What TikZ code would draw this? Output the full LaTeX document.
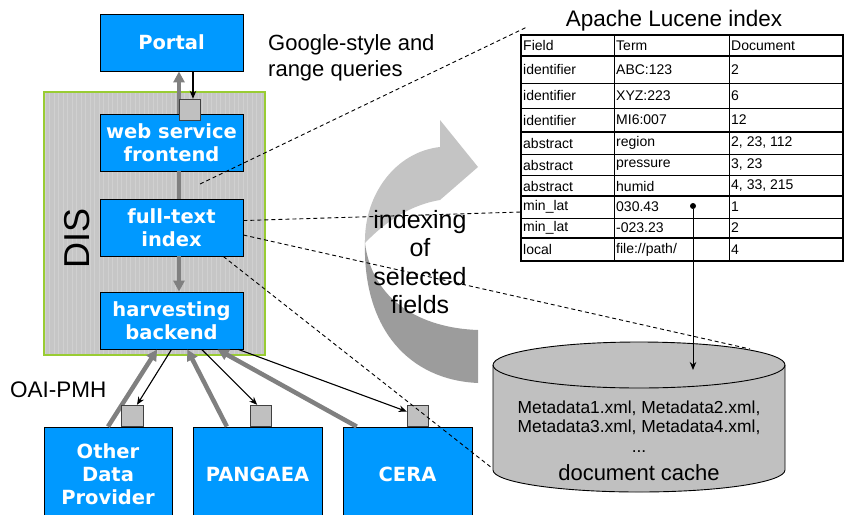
\documentclass[tikz,border=0pt]{standalone}
\usepackage{fontspec}
\setmainfont{Liberation Sans}
\newfontfamily\boxfont{DejaVu Sans}
\usetikzlibrary{arrows.meta,calc}
\definecolor{boxblue}{RGB}{0,153,255}
\definecolor{disgray}{RGB}{198,198,198}
\definecolor{gridc}{RGB}{208,208,208}
\definecolor{disborder}{RGB}{153,204,51}
\definecolor{sqgray}{RGB}{192,192,192}
\definecolor{sqborder}{RGB}{64,64,64}
\definecolor{arrgray}{RGB}{128,128,128}
\definecolor{lightarr}{RGB}{196,196,196}
\definecolor{darkarr}{RGB}{156,156,156}
\definecolor{cylgray}{RGB}{192,192,192}
\begin{document}
\begin{tikzpicture}[x=1pt,y=-1pt,
  bluebox/.style={draw=black, line width=0.9pt, fill=boxblue, text=white,
    font=\boxfont\bfseries\fontsize{19.5}{23}\selectfont, align=center, inner sep=0pt},
  upperbox/.style={bluebox, minimum width=143pt, minimum height=57pt},
  lowerbox/.style={bluebox, minimum width=129pt, minimum height=94pt},
  sqbox/.style={draw=sqborder, line width=0.9pt, fill=sqgray, minimum size=21.5pt, inner sep=0pt},
  grayarr/.style={draw=arrgray, line width=4.5pt, -{Triangle[length=11pt,width=11pt]}},
  grayln/.style={draw=arrgray, line width=4.5pt},
  blackarr/.style={draw=black, line width=1.1pt, -{Stealth[length=8pt,width=6.5pt]}},
  dashln/.style={draw=black, line width=0.9pt, dash pattern=on 4pt off 3pt},
  tcell/.style={anchor=west, inner sep=0pt, font=\fontsize{14}{16}\selectfont},
  plain/.style={inner sep=0pt}]
\useasboundingbox (0,0) rectangle (845,514);
\clip (0,0) rectangle (845,514);

% DIS container
\fill[disgray] (44,92) rectangle (265,355);
\draw[gridc, line width=0.3pt, step=4.5] (44,92) grid (265,355);
\draw[disborder, line width=1.5pt] (44,92) rectangle (265,355);
\node[plain, rotate=90, font=\fontsize{36}{36}\selectfont] (dis) at (77,238) {DIS};

% curved arrow
\fill[darkarr] (365,240) .. controls (362,330) and (410,380) .. (478,383)
  -- (478,330) .. controls (420,328) and (372,300) .. (365,243) -- cycle;
\fill[lightarr] (440,147) .. controls (395,152) and (365,195) .. (365,240)
  -- (365,243) .. controls (385,222) and (410,205) .. (440,200)
  -- (478,167) -- (440,120) -- cycle;

% blue boxes
\node[upperbox] (portal) at (171.5,42.5) {Portal};
\node[upperbox] (web) at (171.5,142.5) {web service\\frontend};
\node[upperbox] (full) at (171.5,227.5) {full-text\\index};
\node[upperbox] (harv) at (171.5,320.5) {harvesting\\backend};
\node[lowerbox, minimum width=128pt] (other) at (108,474) {Other\\Data\\Provider};
\node[lowerbox] (pang) at (257.5,474) {PANGAEA};
\node[lowerbox] (cera) at (407.5,474) {CERA};

% gray connectors
\coordinate (gx) at (179,0);
\draw[grayarr] (web.north -| gx) -- (portal.south -| gx);
\draw[grayln] (web.south -| gx) -- (full.north -| gx);
\draw[grayarr] (full.south -| gx) -- (harv.north -| gx);
\draw[grayarr] (other.north) -- ($(harv.south west)!0.4!(harv.south east)$);
\draw[grayarr] ($(pang.north west)!0.264!(pang.north east)$) -- ($(harv.south west)!0.61!(harv.south east)$);
\draw[grayarr] ($(cera.north west)!0.109!(cera.north east)$) -- ($(harv.south west)!0.82!(harv.south east)$);

% interface squares
\node[sqbox] (sqw) at (190,110) {};
\node[sqbox] (sqo) at (132.5,416) {};
\node[sqbox] (sqp) at (261,416) {};
\node[sqbox] (sqc) at (418,416) {};

% black arrows
\coordinate (bx) at (193,0);
\draw[blackarr] (portal.south -| bx) -- (sqw.north -| bx);
\draw[blackarr] ($(harv.south west)!0.5!(harv.south east)$) -- ($(sqo.north west)!0.7!(sqo.north east)$);
\draw[blackarr] ($(harv.south west)!0.71!(harv.south east)$) -- ($(sqp.north west)!0.33!(sqp.north east)$);
\draw[blackarr] ($(harv.south west)!0.965!(harv.south east)$) -- ($(sqc.north west)!0.3!(sqc.south west)$);

% document cache cylinder
\fill[cylgray] (493,365) -- (493,470) arc[start angle=180,end angle=360,x radius=146pt,y radius=22pt]
  -- (785,365) arc[start angle=0,end angle=180,x radius=146pt,y radius=23pt] -- cycle;
\draw[line width=0.9pt] (493,365) -- (493,470) arc[start angle=180,end angle=360,x radius=146pt,y radius=22pt] -- (785,365);
\draw[line width=0.9pt] (639,365) ellipse[x radius=146pt,y radius=23pt];
\node[plain, align=center, font=\fontsize{17.4}{19.5}\selectfont, anchor=base] (cachetxt) at (639,452)
  {Metadata1.xml, Metadata2.xml,\\Metadata3.xml, Metadata4.xml,\\...};
\node[plain, font=\fontsize{22}{24}\selectfont, anchor=base] (cachelbl) at (639,480) {document cache};
\coordinate (cylrim) at (750,349);
\coordinate (cylside) at (492,468);
\coordinate (cyltop) at (693,370);

% Lucene table
\node[plain, font=\fontsize{22.5}{25}\selectfont, anchor=base] (lucene) at (674,26) {Apache Lucene index};
\foreach \y in {83,108,154,175.7,218} \draw[line width=0.8pt] (521,\y) -- (843,\y);
\foreach \y in {56.3,132,196,238} \draw[line width=1.8pt] (521,\y) -- (843,\y);
\draw[line width=1pt] (614,35.3) -- (614,261) (729,35.3) -- (729,261);
\draw[line width=2pt] (521,35.3) rectangle (843,261);
\foreach \a/\b/\c/\y [count=\i] in {
  Field/Term/Document/45.8,
  identifier/ABC:123/2/69.7,
  identifier/XYZ:223/6/95.5,
  identifier/MI6:007/12/120,
  abstract/region/{2, 23, 112}/143,
  abstract/pressure/{3, 23}/165,
  abstract/humid/{4, 33, 215}/186,
  min\_lat/030.43/1/207,
  min\_lat/-023.23/2/228,
  local/{file://path/}/4/249.5}{
  \node[tcell] (fa\i) at (523,\y) {\a};
  \node[tcell] (tb\i) at (616,\y) {\b};
  \node[tcell] (dc\i) at (731,\y) {\c};
}
\coordinate (tblcorner) at (527,27);
\coordinate (tblrow) at (521,212);

% pointer from index term to cache
\node[circle, fill=black, inner sep=0pt, minimum size=6pt] (dot) at (693,206) {};
\draw[blackarr, line width=1pt] (dot) -- (cyltop);

% dashed projection lines
\coordinate (d1s) at (200,184);
\draw[dashln] (d1s) -- (tblcorner);
\draw[dashln] ($(full.north east)!0.38!(full.south east)$) -- (tblrow);
\draw[dashln] ($(full.north east)!0.63!(full.south east)$) -- (cylrim);
\draw[dashln] ($(full.south west)!0.86!(full.south east)$) -- (cylside);

% free texts
\node[plain, font=\fontsize{22}{26}\selectfont, anchor=base west] (gq1) at (268,50) {Google-style and};
\node[plain, font=\fontsize{22}{26}\selectfont, anchor=base west] (gq2) at (268,76) {range queries};
\node[plain, font=\fontsize{22.5}{25}\selectfont, anchor=base west] (oai) at (10,397) {OAI-PMH};
\node[plain, align=center, font=\fontsize{25}{28.3}\selectfont] (idx) at (420,262) {indexing\\of\\selected\\fields};
\end{tikzpicture}
\end{document}
